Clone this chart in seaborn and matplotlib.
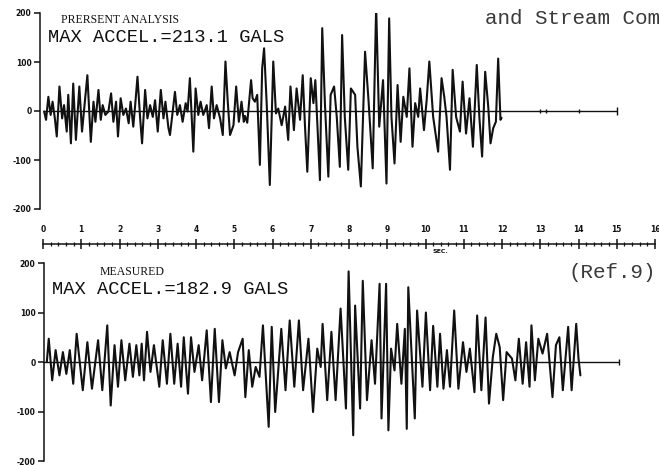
import matplotlib
matplotlib.use("Agg")
import matplotlib.pyplot as plt
import seaborn as sns
import pandas as pd

INK = "#111111"

# time (s) / acceleration (gals) vertices
TOP_T = [0.03, 0.08, 0.14, 0.20, 0.25, 0.31, 0.36, 0.43, 0.50, 0.55, 0.62, 0.66, 0.73, 0.79,
         0.86, 0.95, 1.02, 1.16, 1.25, 1.32, 1.37, 1.45, 1.51, 1.56, 1.63, 1.71, 1.78, 1.84,
         1.91, 1.96, 2.03, 2.10, 2.17, 2.24, 2.29, 2.36, 2.41, 2.47, 2.54, 2.59, 2.67, 2.73,
         2.80, 2.87, 2.93, 3.00, 3.08, 3.15, 3.20, 3.28, 3.32, 3.39, 3.45, 3.51, 3.58, 3.65,
         3.73, 3.78, 3.84, 3.93, 3.99, 4.06, 4.12, 4.19, 4.28, 4.34, 4.41, 4.47, 4.54, 4.63,
         4.70, 4.77, 4.83, 4.89, 4.98, 5.05, 5.12, 5.19, 5.25, 5.28, 5.34, 5.44, 5.48, 5.54,
         5.60, 5.67, 5.73, 5.78, 5.85, 5.93, 6.02, 6.09, 6.15, 6.24, 6.33, 6.41, 6.47, 6.56,
         6.63, 6.72, 6.79, 6.85, 6.91, 7.00, 7.07, 7.12, 7.24, 7.30, 7.37, 7.46, 7.52, 7.61,
         7.68, 7.76, 7.82, 7.89, 7.98, 8.05, 8.16, 8.22, 8.31, 8.42, 8.51, 8.62, 8.71, 8.79,
         8.89, 8.98, 9.05, 9.11, 9.19, 9.27, 9.35, 9.42, 9.51, 9.58, 9.66, 9.73, 9.81, 9.86,
         9.96, 10.03, 10.10, 10.20, 10.33, 10.42, 10.49, 10.55, 10.64, 10.71, 10.80, 10.90,
         10.97, 11.06, 11.15, 11.24, 11.34, 11.41, 11.48, 11.56, 11.64, 11.70, 11.77, 11.84,
         11.90, 11.96, 11.99]
TOP_A = [-1, -18, 29, -8, 19, -15, -52, 50, -15, 12, -42, 33, -66, 56,
         -59, 50, -42, 73, -63, 19, -22, 43, -18, 12, -8, -1, 36, -22,
         19, -52, 26, -8, 5, -25, 19, -32, 12, 70, -15, -66, 43, -15,
         12, -12, 22, -42, 43, -15, 19, -35, -49, -1, 39, -8, 12, -22,
         16, -1, 67, -83, 46, -8, 19, -8, 12, -35, 50, -15, 12, -15,
         -49, 101, 19, -49, -29, 50, -22, 19, -22, -10, -24, 63, 26, 19,
         33, -110, 87, 128, 12, -151, 101, -5, 5, -29, 9, -59, 50, -39,
         46, -18, 73, -32, -124, 67, 16, 63, -141, 169, 16, -134, 33, 50,
         -12, -114, 155, -12, -120, 46, 33, -73, -154, 121, 22, -117, 213, -32,
         63, -148, 189, -12, -107, 53, -63, 29, -12, 87, -73, 16, -12, 46,
         -39, 22, 101, -12, -83, 67, 29, -12, -120, 84, -12, -42,
         60, -46, 26, -73, 94, -15, -93, 80, 9, -66, -35, -22,
         107, -18, -14]

BOT_T = [0.10, 0.15, 0.24, 0.33, 0.43, 0.52, 0.61, 0.70, 0.79, 0.88,
         1.04, 1.16, 1.28, 1.44, 1.55, 1.68, 1.77, 1.87, 1.96, 2.05,
         2.15, 2.26, 2.35, 2.44, 2.52, 2.58, 2.64, 2.72, 2.81, 2.90,
         3.04, 3.13, 3.24, 3.33, 3.43, 3.52, 3.61, 3.68, 3.79, 3.87,
         3.96, 4.07, 4.16, 4.28, 4.39, 4.49, 4.60, 4.69, 4.78, 4.88,
         5.01, 5.10, 5.22, 5.29, 5.38, 5.47, 5.56, 5.66, 5.75, 5.90,
         5.98, 6.07, 6.23, 6.34, 6.45, 6.57, 6.69, 6.80, 6.94, 7.06,
         7.17, 7.26, 7.31, 7.43, 7.54, 7.65, 7.78, 7.92, 7.99, 8.11,
         8.16, 8.29, 8.36, 8.47, 8.59, 8.68, 8.80, 8.85, 8.97, 9.03,
         9.10, 9.19, 9.26, 9.37, 9.46, 9.51, 9.55, 9.72, 9.78, 9.92,
         10.01, 10.12, 10.20, 10.31, 10.38, 10.47, 10.56, 10.64, 10.75, 10.86,
         10.98, 11.07, 11.16, 11.28, 11.35, 11.46, 11.57, 11.66, 11.76, 11.85,
         11.94, 12.03, 12.12, 12.26, 12.35, 12.44, 12.54, 12.63, 12.72, 12.77,
         12.86, 12.95, 13.06, 13.18, 13.32, 13.41, 13.50, 13.59, 13.73, 13.82,
         13.94, 14.00, 14.05]
BOT_A = [0, 47, -37, 24, -27, 20, -24, 24, -44, 57,
         -57, 40, -54, 44, -57, 74, -88, 34, -50, 44,
         -37, 37, -30, 34, -27, 37, -37, 61, -20, 34,
         -50, 44, -44, 57, -44, 37, -50, 50, -64, 50,
         -20, 34, -37, 64, -81, 67, -81, 44, -13, 20,
         -27, 20, 47, -71, 24, -50, -10, -30, 74, -131,
         71, -101, 67, -57, 84, -50, 84, -57, 47, -101,
         27, -10, 77, -77, 61, -77, 108, -94, 183, -148,
         114, -94, 164, -77, 44, -44, 158, -114, 158, -138,
         27, -17, 77, -44, 67, -135, 151, -114, 104, -50,
         100, -57, 73, -50, 57, -54, 24, -50, 104, -54,
         40, -20, 27, -61, 94, -57, 90, -84, 10, 57,
         30, -77, 20, 7, -37, 47, -44, 40, -50, 74,
         -37, 47, 17, 57, -71, 34, 50, -57, 71, -57,
         77, 7, -27]

TOP_BASE_END = 15.0
BOT_BASE_END = 15.05
TOP_BASE_MARKS = [13.0, 13.15, 14.0]
Y_TICKS = [200, 100, 0, -100, -200]
SEC_TICKS = list(range(0, 17))

sns.set_style("white")
plt.rcParams["font.family"] = ["DejaVu Sans"]

fig = plt.figure(figsize=(6.59, 4.65), dpi=100)
W, H = 659, 465

def trace_axes(bottom_px, top_px, spine_t):
    ax = fig.add_axes([43 / W, 1 - bottom_px / H, 612 / W, (bottom_px - top_px) / H])
    ax.set_xlim(0, 16)
    ax.set_ylim(-200, 200)
    ax.set_facecolor("none")
    for s in ["top", "right", "bottom"]:
        ax.spines[s].set_visible(False)
    ax.spines["left"].set_position(("data", spine_t))
    ax.spines["left"].set_color(INK)
    ax.spines["left"].set_linewidth(1.1)
    ax.set_xticks([])
    ax.set_yticks(Y_TICKS)
    ax.set_yticklabels([str(v) for v in Y_TICKS], fontsize=5.5, fontweight="bold", color=INK)
    ax.tick_params(axis="y", direction="out", length=4, width=1.1, pad=2, colors=INK, left=True)
    return ax

def draw_trace(ax, t, a):
    sns.lineplot(data=pd.DataFrame({"t": t, "a": a}), x="t", y="a", ax=ax,
                 estimator=None, sort=False, color=INK, lw=1.5)
    ax.set_xlabel("")
    ax.set_ylabel("")

ax1 = trace_axes(209, 13, -0.08)
ax1.hlines(0, 0, TOP_BASE_END, color=INK, lw=1.0)
ax1.vlines(TOP_BASE_MARKS, -5, 5, color=INK, lw=1.0)
ax1.vlines([TOP_BASE_END], -9, 9, color=INK, lw=1.0)
draw_trace(ax1, TOP_T, TOP_A)

ax2 = trace_axes(461, 263, 0.02)
ax2.hlines(0, 0, BOT_BASE_END, color=INK, lw=1.0)
ax2.vlines([BOT_BASE_END], -7, 7, color=INK, lw=1.0)
draw_trace(ax2, BOT_T, BOT_A)

# time axis between the two records
axt = fig.add_axes([43 / W, 1 - 254 / H, 612 / W, 10 / H])
axt.set_xlim(0, 16)
axt.set_facecolor("none")
axt.set_yticks([])
for s in ["bottom", "left", "right"]:
    axt.spines[s].set_visible(False)
axt.spines["top"].set_color(INK)
axt.spines["top"].set_linewidth(1.1)
axt.xaxis.tick_top()
axt.set_xticks(SEC_TICKS)
axt.set_xticklabels([str(v) for v in SEC_TICKS], fontsize=5.5, fontweight="bold", color=INK)
axt.set_xticks([i / 5 for i in range(81)], minor=True)
axt.tick_params(axis="x", which="major", direction="inout", length=7, width=1.1, pad=4, colors=INK, top=True)
axt.tick_params(axis="x", which="minor", direction="inout", length=2.5, width=0.9, colors=INK, top=True)
fig.text(440 / W, 1 - 251 / H, "SEC.", fontsize=4.5, fontweight="bold", ha="center", va="center", color=INK)

# annotations
fig.text(61 / W, 1 - 23 / H, "PRERSENT ANALYSIS", family="Liberation Serif", fontsize=8.5, color=INK)
fig.text(48 / W, 1 - 42 / H, "MAX ACCEL.=213.1 GALS", family="Liberation Mono", fontsize=13.5, color=INK)
fig.text(100 / W, 1 - 275 / H, "MEASURED", family="Liberation Serif", fontsize=8.5, color=INK)
fig.text(52 / W, 1 - 294 / H, "MAX ACCEL.=182.9 GALS", family="Liberation Mono", fontsize=13.5, color=INK)
fig.text(485 / W, 1 - 24 / H, "and Stream Com", family="Liberation Mono", fontsize=15, color="#3a3a3a")
fig.text(568 / W, 1 - 278 / H, "(Ref.9)", family="Liberation Mono", fontsize=15, color="#3a3a3a")

fig.savefig("out.png", dpi=100, facecolor="white")
